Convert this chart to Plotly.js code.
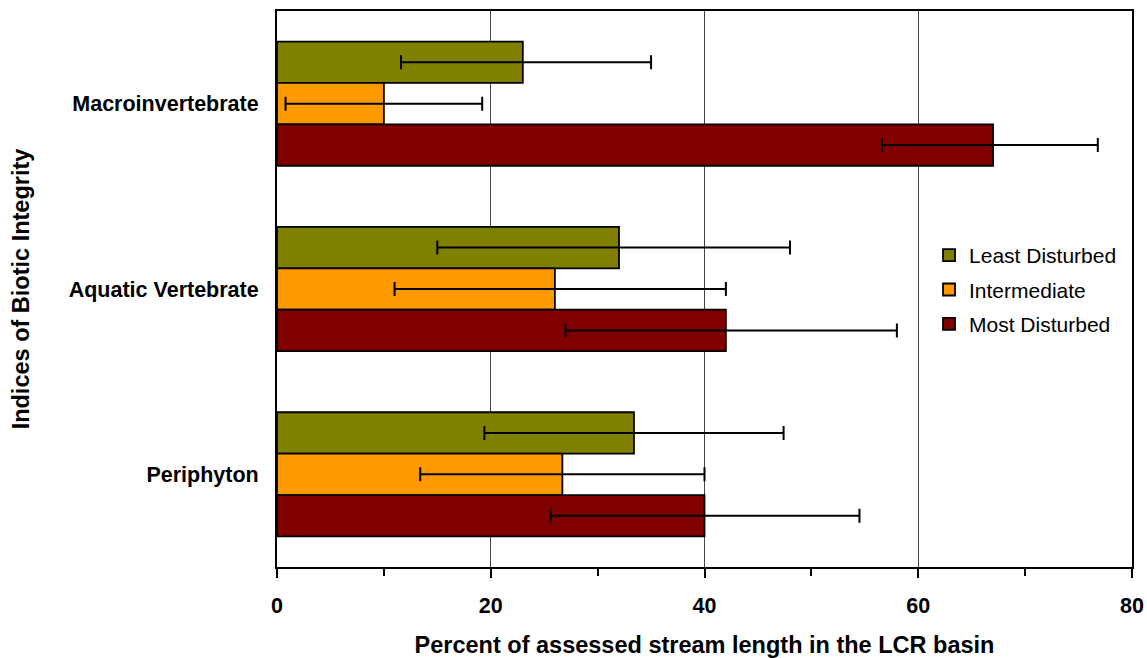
<!DOCTYPE html>
<html>
<head>
<meta charset="utf-8">
<script src="https://cdn.plot.ly/plotly-3.0.1.min.js"></script>
<style>html,body{margin:0;padding:0;background:#fff;}#chart{width:1147px;height:658px;}</style>
</head>
<body>
<div id="chart"></div>
<script>
const categories = ["Macroinvertebrate", "Aquatic Vertebrate", "Periphyton"];
const seriesNames = ["Least Disturbed", "Intermediate", "Most Disturbed"];

const leastValues = [23.0, 32.0, 33.4];
const leastLow = [11.6, 15.0, 19.4];
const leastHigh = [35.0, 48.0, 47.4];

const interValues = [10.0, 26.0, 26.7];
const interLow = [0.8, 11.0, 13.4];
const interHigh = [19.2, 42.0, 40.0];

const mostValues = [67.0, 42.0, 40.0];
const mostLow = [56.6, 27.0, 25.6];
const mostHigh = [76.8, 58.0, 54.5];

const colors = ["#808000", "#FF9900", "#800000"];

function mkTrace(name, vals, lo, hi, color) {
  return {
    type: 'bar', orientation: 'h', name: name, legendgroup: name,
    y: categories, x: vals,
    marker: {color: color, line: {color: '#000', width: 1.8}},
    error_x: {
      type: 'data', symmetric: false,
      array: vals.map((v, i) => hi[i] - v),
      arrayminus: vals.map((v, i) => v - lo[i]),
      color: '#000', thickness: 2, width: 7
    },
    hoverinfo: 'x+y+name'
  };
}

const data = [
  mkTrace(seriesNames[0], leastValues, leastLow, leastHigh, colors[0]),
  mkTrace(seriesNames[1], interValues, interLow, interHigh, colors[1]),
  mkTrace(seriesNames[2], mostValues, mostLow, mostHigh, colors[2])
];

const FONT = 'Liberation Sans, Arial, sans-serif';

const layout = {
  width: 1147, height: 658,
  margin: {l: 277, r: 15, t: 11, b: 91},
  paper_bgcolor: '#fff', plot_bgcolor: '#fff',
  barmode: 'group', bargap: 0.33, bargroupgap: 0,
  font: {family: FONT, color: '#000'},
  showlegend: true,
  legend: {
    x: 0.7626, y: 0.597, xanchor: 'left', yanchor: 'top',
    font: {size: 21, family: FONT, color: '#000'},
    bgcolor: 'rgba(0,0,0,0)', borderwidth: 0,
    traceorder: 'grouped', tracegroupgap: 4
  },
  xaxis: {
    range: [0, 80], dtick: 20, tick0: 0,
    showgrid: true, gridcolor: '#444', gridwidth: 1,
    zeroline: false,
    showline: true, mirror: true, linecolor: '#000', linewidth: 2,
    ticks: 'outside', ticklen: 9, tickwidth: 2, tickcolor: '#000',
    minor: {dtick: 10, ticks: 'outside', ticklen: 7, tickwidth: 2, tickcolor: '#000', showgrid: false},
    tickfont: {size: 21.5, family: FONT, weight: 'bold'},
    ticklabelstandoff: 9,
    title: {text: 'Percent of assessed stream length in the LCR basin', font: {size: 23.5, family: FONT, weight: 'bold'}, standoff: 21},
    automargin: false,
    fixedrange: true
  },
  yaxis: {
    autorange: 'reversed', type: 'category',
    showgrid: false, zeroline: false,
    showline: true, mirror: true, linecolor: '#000', linewidth: 2,
    ticks: '', ticklabelstandoff: 12,
    tickfont: {size: 21.5, family: FONT, weight: 'bold'},
    title: {text: 'Indices of Biotic Integrity', font: {size: 23.5, family: FONT, weight: 'bold'}, standoff: 32},
    automargin: false,
    fixedrange: true
  }
};

Plotly.newPlot('chart', data, layout, {displayModeBar: false});
</script>
</body>
</html>
